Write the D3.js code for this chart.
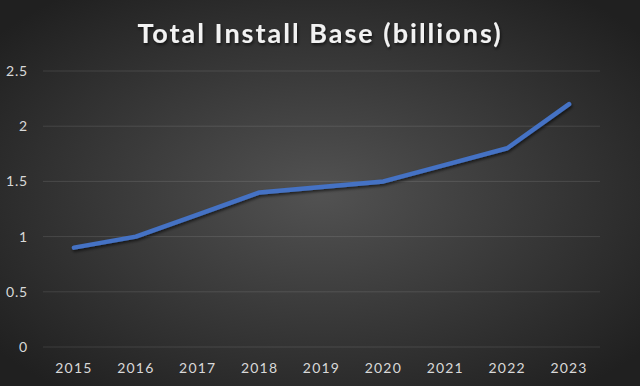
<!DOCTYPE html>
<html>
<head>
<meta charset="utf-8">
<script src="https://cdn.jsdelivr.net/npm/d3@7"></script>
<style>
  html, body { margin: 0; padding: 0; background: #2a2a2a; }
  svg { display: block; font-family: Lato, "Open Sans", sans-serif; }
</style>
</head>
<body>
<svg width="640" height="386"></svg>
<script>
// chart data
const years = ["2015", "2016", "2017", "2018", "2019", "2020", "2021", "2022", "2023"];
const installBase = [0.9, 1.0, 1.2, 1.4, 1.45, 1.5, 1.65, 1.8, 2.2];
const yTicks = [0, 0.5, 1, 1.5, 2, 2.5];

const width = 640, height = 386;
const svg = d3.select("svg");

// background gradient
const defs = svg.append("defs");
const grad = defs.append("radialGradient")
	.attr("id", "bg")
	.attr("cx", "50%").attr("cy", "50%").attr("r", "65%");
grad.append("stop").attr("offset", "0%").attr("stop-color", "#525252");
grad.append("stop").attr("offset", "100%").attr("stop-color", "#202020");

const shadow = defs.append("filter").attr("id", "shadow")
	.attr("x", "-10%").attr("y", "-10%").attr("width", "120%").attr("height", "130%");
shadow.append("feDropShadow")
	.attr("dx", 1).attr("dy", 2).attr("stdDeviation", 1.5)
	.attr("flood-color", "#000").attr("flood-opacity", 0.6);

svg.append("rect")
	.attr("width", width).attr("height", height)
	.attr("fill", "url(#bg)");

const x = d3.scalePoint().domain(years).range([43, 600]).padding(0.5);
const y = d3.scaleLinear().domain([0, 2.5]).range([347, 71]);

// gridlines
svg.append("g")
	.selectAll("line")
	.data(yTicks)
	.join("line")
	.attr("x1", 43).attr("x2", 600)
	.attr("y1", d => y(d)).attr("y2", d => y(d))
	.attr("stroke", "rgba(255,255,255,0.11)")
	.attr("stroke-width", 1);

// y labels
svg.append("g")
	.selectAll("text")
	.data(yTicks)
	.join("text")
	.attr("x", 28)
	.attr("y", d => y(d) + 5)
	.attr("text-anchor", "end")
	.attr("fill", "#d9d9d9")
	.attr("font-size", 14)
	.attr("letter-spacing", 0.8)
	.text(d => d);

// x labels
svg.append("g")
	.selectAll("text")
	.data(years)
	.join("text")
	.attr("x", d => x(d))
	.attr("y", 373)
	.attr("text-anchor", "middle")
	.attr("fill", "#d9d9d9")
	.attr("font-size", 14)
	.attr("letter-spacing", 1.2)
	.text(d => d);

// line
const line = d3.line()
	.x((d, i) => x(years[i]))
	.y(d => y(d));

svg.append("path")
	.datum(installBase)
	.attr("d", line)
	.attr("fill", "none")
	.attr("stroke", "#4472c4")
	.attr("stroke-width", 4.5)
	.attr("stroke-linecap", "round")
	.attr("stroke-linejoin", "round")
	.attr("filter", "url(#shadow)");

// title
svg.append("text")
	.attr("x", 320)
	.attr("y", 43)
	.attr("text-anchor", "middle")
	.attr("fill", "#f2f2f2")
	.attr("font-size", 27)
	.attr("font-weight", "bold")
	.attr("letter-spacing", 2)
	.attr("filter", "url(#shadow)")
	.text("Total Install Base (billions)");
</script>
</body>
</html>
